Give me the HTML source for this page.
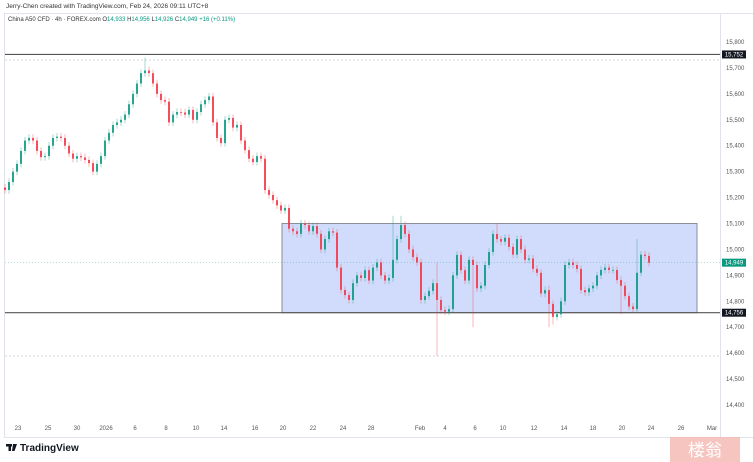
<!DOCTYPE html>
<html><head><meta charset="utf-8"><style>
body{margin:0;background:#fff;font-family:"Liberation Sans","Noto Sans CJK SC",sans-serif}
#wrap{position:relative;width:753px;height:462px;overflow:hidden}
</style></head><body>
<div id="wrap">
<svg id="svg" width="753" height="462" xmlns="http://www.w3.org/2000/svg">
<text x="6" y="8" font-size="6.5" fill="#333">Jerry-Chen created with TradingView.com, Feb 24, 2026 09:11 UTC+8</text>
<line x1="4" y1="13.5" x2="753" y2="13.5" stroke="#e0e3eb"/>
<line x1="4.5" y1="13" x2="4.5" y2="438" stroke="#e0e3eb"/>
<line x1="720.5" y1="13" x2="720.5" y2="438" stroke="#e0e3eb"/>
<line x1="4" y1="437.5" x2="753" y2="437.5" stroke="#e0e3eb"/>
<text x="8" y="21" font-size="6" fill="#333">China A50 CFD · 4h · FOREX.com <tspan fill="#333">O</tspan><tspan fill="#089981">14,933</tspan> <tspan fill="#333">H</tspan><tspan fill="#089981">14,956</tspan> <tspan fill="#333">L</tspan><tspan fill="#089981">14,926</tspan> <tspan fill="#333">C</tspan><tspan fill="#089981">14,949 +16 (+0.11%)</tspan></text>
<g id="g"></g>
<g><rect x="6" y="444" width="6" height="2.5" fill="#131722"/><rect x="8.5" y="444" width="2.5" height="7" fill="#131722"/><polygon points="13,444 17,444 14.5,451 12,451" fill="#131722"/><text x="20" y="451" font-size="10" font-weight="bold" fill="#131722">TradingView</text></g>
<g><rect x="670" y="437" width="70" height="25" fill="#f4b7b0" opacity="0.8"/><text x="705" y="456" font-size="17" text-anchor="middle" fill="#fff" font-family="Noto Sans CJK SC,sans-serif">楼翁</text></g>
</svg></div>
<script>
const closes=[15229,15260,15300,15330,15380,15420,15430,15420,15380,15356,15360,15400,15430,15435,15430,15400,15370,15350,15360,15355,15345,15333,15300,15330,15360,15420,15450,15480,15490,15500,15520,15560,15600,15640,15680,15690,15680,15640,15600,15576,15570,15490,15520,15530,15528,15520,15538,15500,15530,15560,15576,15590,15490,15430,15410,15500,15507,15470,15480,15420,15383,15350,15337,15360,15350,15229,15210,15190,15170,15150,15160,15080,15070,15060,15100,15094,15070,15090,15060,15000,15040,15070,15065,14930,14844,14824,14805,14870,14900,14890,14920,14880,14930,14950,14900,14880,14890,14960,15040,15094,15060,15000,14970,14950,14805,14820,14840,14870,14805,14766,14760,14770,14900,14979,14920,14880,14960,14940,14850,14860,14940,14990,15060,15040,15030,15045,15010,14980,15040,15000,14960,14965,14925,14910,14830,14843,14790,14740,14750,14800,14940,14950,14940,14925,14843,14835,14850,14860,14900,14921,14930,14921,14921,14882,14860,14820,14780,14770,14910,14980,14975,14949];
const spikeIdx=[35,97,99,108,123,136,158];
const spikeHigh=[15740,15130,15130,14950,15100,14860,15040];
const spikeLowIdx=[108,117,136,137,154];
const spikeLow=[14590,14700,14700,14710,14750];
const priceTicks=[15800,15700,15600,15500,15400,15300,15200,15100,15000,14900,14800,14700,14600,14500,14400];
const dateLabels=["23","25","30","2026","6","8","10","14","16","20","22","24","28","Feb","4","6","10","12","14","18","20","24","26","Mar"];
const dateX=[18,48,77,106,135,166,196,224,255,283,313,343,371,420,445,475,503,534,564,593,622,651,681,712];
const levels=[15752,14756];
const boxTop=15100,boxBottom=14756,lastPrice=14949;
const NS="http://www.w3.org/2000/svg";
const y=p=>42+(15800-p)/100*25.93;
const x=i=>5+i*4;
const g=document.getElementById('g');
function mk(t,a){const e=document.createElementNS(NS,t);for(const k in a)e.setAttribute(k,a[k]);g.appendChild(e);return e;}
let e;
e=mk('line',{x1:5,x2:720,y1:60,y2:60,stroke:'#d1d4dc','stroke-dasharray':'2,2'});


e=mk('line',{x1:5,x2:720,y1:356,y2:356,stroke:'#d1d4dc','stroke-dasharray':'2,2'});


e=mk('rect',{x:282,y:y(boxTop),width:415,height:y(boxBottom)-y(boxTop),fill:'#d1dcfc',stroke:'#8a8d96','stroke-width':1});


e=mk('line',{x1:5,x2:720,y1:y(lastPrice),y2:y(lastPrice),stroke:'#089981','stroke-dasharray':'1,2','stroke-width':0.5,opacity:0.6});


levels.forEach((l,k)=>{
 e=mk('line',{x1:5,x2:720,y1:y(l),y2:y(l),stroke:'#555','stroke-width':1.2});
 
 
});
closes.forEach((c,i)=>{
 const o=i?closes[i-1]:c+10;
 let hi=Math.max(o,c)+14,lo=Math.min(o,c)-14;
 const si=spikeIdx.indexOf(i);if(si>=0)hi=Math.max(hi,spikeHigh[si]);
 const li=spikeLowIdx.indexOf(i);if(li>=0)lo=Math.min(lo,spikeLow[li]);
 const col=c>=o?'#089981':'#f23645';
 e=mk('line',{x1:x(i),x2:x(i),y1:y(hi),y2:y(lo),stroke:col,'stroke-width':0.9,opacity:0.4});
 
 
 const t=y(Math.max(o,c)),b=y(Math.min(o,c));
 e=mk('rect',{x:x(i)-1,y:t,width:2,height:Math.max(b-t,0.8),fill:col,opacity:0.85});
 
 
});
priceTicks.forEach(p=>{
 e=mk('text',{x:726,y:y(p)+2,'font-size':6,fill:'#555'});e.textContent=p.toLocaleString('en-US');
 
 
});
function tag(p,fill,name){
 e=mk('rect',{x:722,y:y(p)-4,width:24,height:8,fill:fill});
 
 
 e=mk('text',{x:734,y:y(p)+2,'font-size':6,fill:'#fff','text-anchor':'middle'});e.textContent=p.toLocaleString('en-US');
 
 
}
tag(15752,'#131722','level-tag-top');tag(14756,'#131722','level-tag-bottom');tag(lastPrice,'#089981','last-price-tag');
dateLabels.forEach((d,k)=>{
 e=mk('text',{x:dateX[k],y:430,'font-size':6,fill:'#555','text-anchor':'middle'});e.textContent=d;
 
 
});
</script>
</body></html>
